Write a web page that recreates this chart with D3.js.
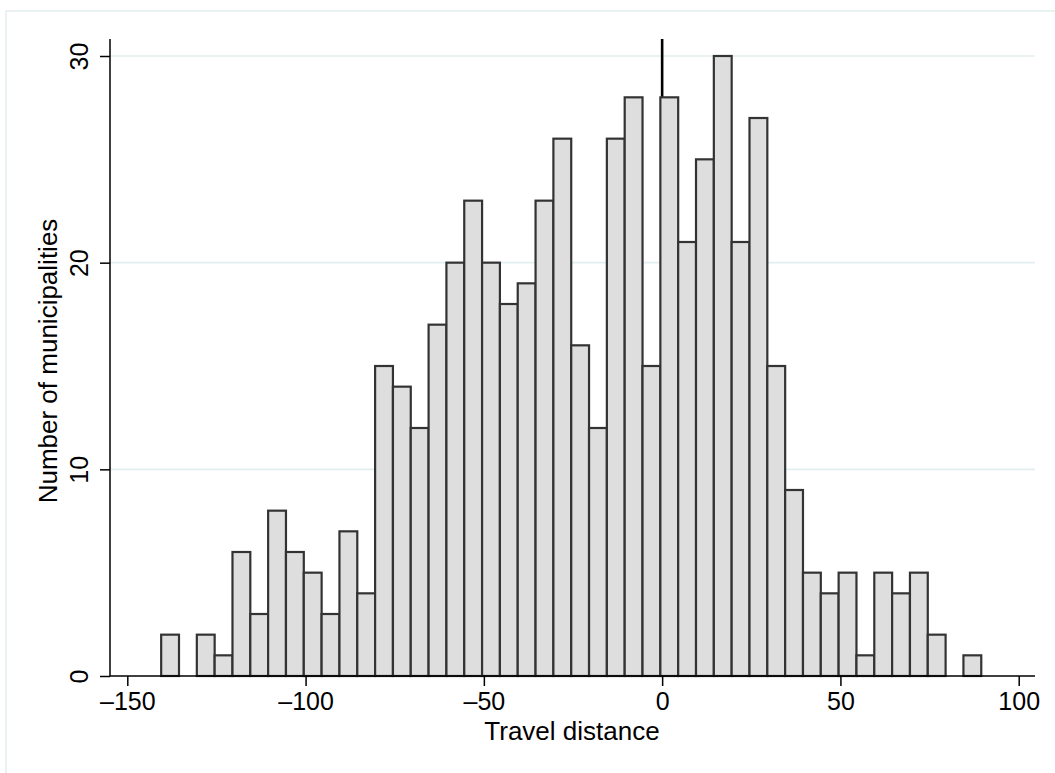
<!DOCTYPE html>
<html>
  <head>
    <meta charset="utf-8" />
    <title>Travel distance histogram</title>
    <script src="https://d3js.org/d3.v7.min.js"></script>
    <style>
      body { margin: 0; background: #fff; }
      text { font-family: "Liberation Sans", Arial, Helvetica, sans-serif; fill: #000; }
    </style>
  </head>
  <body>
    <svg width="1055" height="773"></svg>

    <script>
      // Histogram bins (lower edge of each 5-unit bin) and counts
      const binEdges = [-140.5, -135.5, -130.5, -125.5, -120.5, -115.5, -110.5, -105.5, -100.5, -95.5,
        -90.5, -85.5, -80.5, -75.5, -70.5, -65.5, -60.5, -55.5, -50.5, -45.5,
        -40.5, -35.5, -30.5, -25.5, -20.5, -15.5, -10.5, -5.5, -0.5, 4.5,
        9.5, 14.5, 19.5, 24.5, 29.5, 34.5, 39.5, 44.5, 49.5, 54.5,
        59.5, 64.5, 69.5, 74.5, 79.5, 84.5];
      const binWidth = 5;
      const counts = [2, 0, 2, 1, 6, 3, 8, 6, 5, 3,
        7, 4, 15, 14, 12, 17, 20, 23, 20, 18,
        19, 23, 26, 16, 12, 26, 28, 15, 28, 21,
        25, 30, 21, 27, 15, 9, 5, 4, 5, 1,
        5, 4, 5, 2, 0, 1];

      const xTicks = [-150, -100, -50, 0, 50, 100];
      const xTickLabels = ["\u2013150", "\u2013100", "\u201350", "0", "50", "100"];
      const yTicks = [0, 10, 20, 30];
      const yGrid = [10, 20, 30];
      const refLine = 0;

      const svg = d3.select("svg");

      // outer frame (only left/top edges visible in the crop)
      svg.append("rect")
        .attr("x", 6).attr("y", 11)
        .attr("width", 1200).attr("height", 900)
        .attr("fill", "none")
        .attr("stroke", "#e4edef")
        .attr("stroke-width", 1.5);

      const plotLeft = 110, plotRight = 1035, plotTop = 39;

      const x = d3.scaleLinear().domain([-150, 100]).range([127.3, 1018.7]);
      const y = d3.scaleLinear().domain([0, 30]).range([676, 56]);

      // gridlines
      svg.append("g")
        .selectAll("line")
        .data(yGrid)
        .join("line")
        .attr("x1", plotLeft).attr("x2", plotRight)
        .attr("y1", d => y(d)).attr("y2", d => y(d))
        .attr("stroke", "#e3eef0")
        .attr("stroke-width", 1.6);

      // reference line at 0 (drawn behind bars)
      svg.append("line")
        .attr("x1", x(refLine)).attr("x2", x(refLine))
        .attr("y1", plotTop).attr("y2", y(0))
        .attr("stroke", "#000")
        .attr("stroke-width", 2.6);

      // bars
      svg.append("g")
        .selectAll("rect")
        .data(binEdges.map((e, i) => ({ x0: e, x1: e + binWidth, n: counts[i] })).filter(d => d.n > 0))
        .join("rect")
        .attr("x", d => x(d.x0))
        .attr("width", d => x(d.x1) - x(d.x0))
        .attr("y", d => y(d.n))
        .attr("height", d => y(0) - y(d.n))
        .attr("fill", "#dedede")
        .attr("stroke", "#333")
        .attr("stroke-width", 2.2);

      // x axis
      const xAxis = svg.append("g")
        .attr("transform", `translate(0,${y(0)})`)
        .call(d3.axisBottom(x)
          .tickValues(xTicks)
          .tickFormat((d, i) => xTickLabels[i])
          .tickSize(10)
          .tickSizeOuter(0));
      xAxis.select(".domain").remove();
      xAxis.append("line")
        .attr("x1", plotLeft).attr("x2", plotRight)
        .attr("y1", 0).attr("y2", 0)
        .attr("stroke", "#000").attr("stroke-width", 1.5);
      xAxis.selectAll(".tick line").attr("stroke", "#000").attr("stroke-width", 1.5);
      xAxis.selectAll(".tick text")
        .attr("y", 34).attr("dy", null)
        .style("font-size", "25px")
        .style("font-family", "'Liberation Sans', Arial, sans-serif")
        .attr("fill", "#000");

      // y axis
      const yAxis = svg.append("g")
        .attr("transform", `translate(${plotLeft},0)`)
        .call(d3.axisLeft(y)
          .tickValues(yTicks)
          .tickSize(10)
          .tickSizeOuter(0));
      yAxis.select(".domain").remove();
      yAxis.append("line")
        .attr("x1", 0).attr("x2", 0)
        .attr("y1", plotTop).attr("y2", y(0))
        .attr("stroke", "#000").attr("stroke-width", 1.5);
      yAxis.selectAll(".tick line").attr("stroke", "#000").attr("stroke-width", 1.5);
      yAxis.selectAll(".tick text")
        .attr("x", null).attr("dy", null)
        .attr("transform", "translate(-22,0) rotate(-90)")
        .attr("text-anchor", "middle")
        .style("font-size", "25px")
        .style("font-family", "'Liberation Sans', Arial, sans-serif")
        .attr("fill", "#000");

      // axis titles
      svg.append("text")
        .attr("x", 572).attr("y", 740)
        .attr("text-anchor", "middle")
        .style("font-size", "26px")
        .text("Travel distance");

      svg.append("text")
        .attr("transform", "translate(57,361) rotate(-90)")
        .attr("text-anchor", "middle")
        .style("font-size", "26px")
        .text("Number of municipalities");
    </script>
  </body>
</html>
